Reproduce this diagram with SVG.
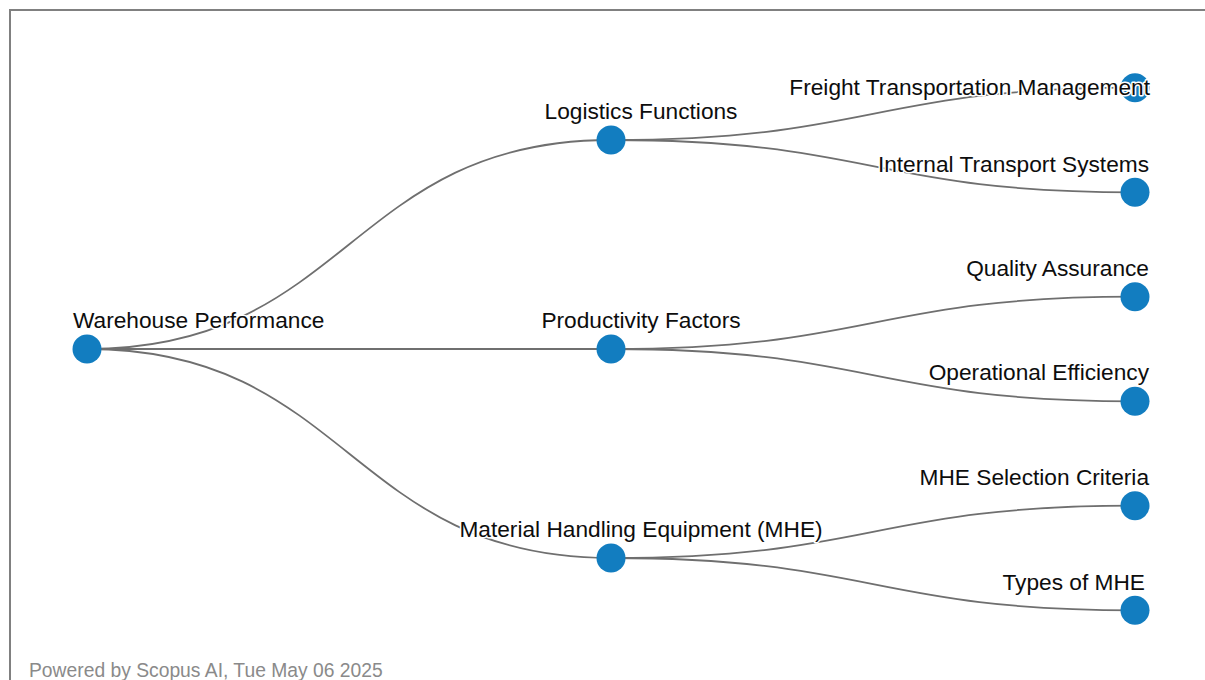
<svg xmlns="http://www.w3.org/2000/svg" width="1205" height="680" viewBox="0 0 1205 680">
  <style>
    .frame { fill: none; stroke: #808080; stroke-width: 2; }
    .link { fill: none; stroke: #6f6f6f; stroke-width: 1.8; }
    .node circle { fill: #127dc0; }
    .node text { font-family: "Liberation Sans", Arial, sans-serif; font-size: 22.7px; fill: #0d0d0d; stroke: #fff; stroke-width: 3; stroke-linejoin: round; paint-order: stroke; }
    .footer { font-family: "Liberation Sans", Arial, sans-serif; font-size: 19.3px; fill: #8a8a8a; }
  </style>
  <rect width="1205" height="680" fill="#fff"/>
  <path class="frame" d="M10,680 V10 H1205"/>

  <!-- tree links (horizontal cubic curves) -->
  <g id="links">
    <path class="link" d="M87,349 C349,349 349,140 611,140"/>
    <path class="link" d="M87,349 C349,349 349,349 611,349"/>
    <path class="link" d="M87,349 C349,349 349,558 611,558"/>
    <path class="link" d="M611,140 C873,140 873,87.7 1135,87.7"/>
    <path class="link" d="M611,140 C873,140 873,192.3 1135,192.3"/>
    <path class="link" d="M611,349 C873,349 873,296.7 1135,296.7"/>
    <path class="link" d="M611,349 C873,349 873,401.3 1135,401.3"/>
    <path class="link" d="M611,558 C873,558 873,505.7 1135,505.7"/>
    <path class="link" d="M611,558 C873,558 873,610.3 1135,610.3"/>
  </g>

  <!-- root -->
  <g id="warehouse-performance" class="node">
    <circle cx="87" cy="349" r="14.5"/>
    <text x="73" y="328">Warehouse Performance</text>
  </g>

  <!-- first level -->
  <g id="logistics-functions" class="node">
    <circle cx="611" cy="140" r="14.5"/>
    <text x="641" y="119" text-anchor="middle">Logistics Functions</text>
  </g>
  <g id="productivity-factors" class="node">
    <circle cx="611" cy="349" r="14.5"/>
    <text x="641" y="328" text-anchor="middle">Productivity Factors</text>
  </g>
  <g id="material-handling-equipment" class="node">
    <circle cx="611" cy="558" r="14.5"/>
    <text x="641" y="537" text-anchor="middle">Material Handling Equipment (MHE)</text>
  </g>

  <!-- second level -->
  <g id="freight-transportation-management" class="node">
    <circle cx="1135" cy="87.7" r="14.5"/>
    <text x="1150" y="95" text-anchor="end">Freight Transportation Management</text>
  </g>
  <g id="internal-transport-systems" class="node">
    <circle cx="1135" cy="192.3" r="14.5"/>
    <text x="1149" y="171.5" text-anchor="end">Internal Transport Systems</text>
  </g>
  <g id="quality-assurance" class="node">
    <circle cx="1135" cy="296.7" r="14.5"/>
    <text x="1149" y="276" text-anchor="end">Quality Assurance</text>
  </g>
  <g id="operational-efficiency" class="node">
    <circle cx="1135" cy="401.3" r="14.5"/>
    <text x="1149" y="380" text-anchor="end">Operational Efficiency</text>
  </g>
  <g id="mhe-selection-criteria" class="node">
    <circle cx="1135" cy="505.7" r="14.5"/>
    <text x="1149" y="485" text-anchor="end">MHE Selection Criteria</text>
  </g>
  <g id="types-of-mhe" class="node">
    <circle cx="1135" cy="610.3" r="14.5"/>
    <text x="1145" y="589.5" text-anchor="end">Types of MHE</text>
  </g>

  <text class="footer" x="29" y="677">Powered by Scopus AI, Tue May 06 2025</text>
</svg>
